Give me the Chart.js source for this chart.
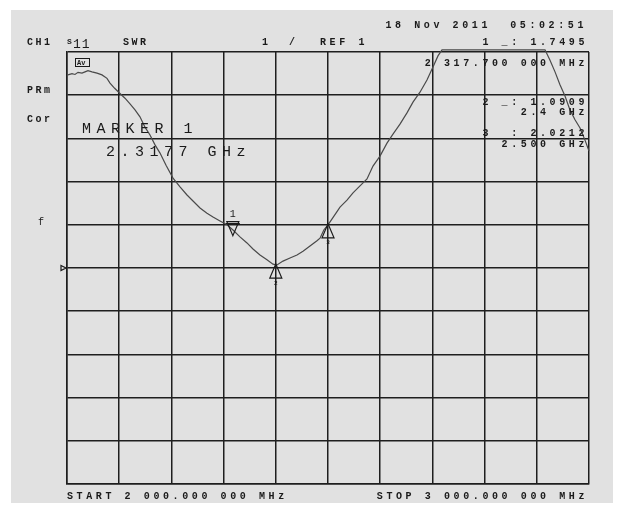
<!DOCTYPE html>
<html>
<head>
<meta charset="utf-8">
<script src="https://cdn.jsdelivr.net/npm/chart.js@4.4.0/dist/chart.umd.min.js"></script>
<style>
  html, body { margin: 0; padding: 0; background: #fff; }
  canvas { display: block; }
</style>
</head>
<body>
<canvas id="swrChart" width="624" height="506"></canvas>
<script>
// sweep 2000 - 3000 MHz, SWR trace (1 / div, ref 1)
const freqMHz = [2001.9, 2009.6, 2015.3, 2021.1, 2028.7, 2034.5, 2040.2, 2047.9, 2057.5, 2067.0,
    2076.6, 2082.4, 2091.3, 2101.5, 2111.1, 2120.7, 2130.3, 2139.8, 2149.4, 2159.0,
    2168.6, 2178.2, 2189.7, 2203.1, 2216.5, 2229.9, 2241.4, 2254.8, 2268.2, 2279.7,
    2293.1, 2306.5, 2318.0, 2331.4, 2344.8, 2356.3, 2369.7, 2383.1, 2394.6, 2402.3,
    2413.8, 2427.2, 2440.6, 2452.1, 2465.5, 2478.9, 2484.7, 2492.0, 2500.0, 2515.3,
    2523.0, 2536.4, 2547.9, 2561.3, 2574.7, 2586.2, 2599.6, 2613.0, 2624.5, 2637.9,
    2651.3, 2662.8, 2676.2, 2689.6, 2701.1, 2710.7, 2718.4, 2915.7, 2925.3, 2934.9,
    2944.4, 2954.0, 2963.6, 2973.2, 2982.8, 2992.3, 3000.0];
const swr = [5.47, 5.50, 5.48, 5.53, 5.51, 5.54, 5.57, 5.54, 5.51, 5.47,
    5.39, 5.28, 5.16, 5.04, 4.93, 4.80, 4.66, 4.50, 4.26, 4.08,
    3.85, 3.66, 3.38, 3.08, 2.88, 2.69, 2.55, 2.39, 2.27, 2.18,
    2.09, 2.00, 1.88, 1.72, 1.58, 1.44, 1.30, 1.19, 1.09, 1.07,
    1.16, 1.23, 1.30, 1.39, 1.51, 1.63, 1.69, 1.88, 2.00, 2.27,
    2.41, 2.57, 2.74, 2.90, 3.06, 3.36, 3.59, 3.89, 4.10, 4.33,
    4.59, 4.84, 5.07, 5.35, 5.65, 5.91, 6.05, 6.05, 5.81, 5.54,
    5.24, 4.98, 4.66, 4.43, 4.24, 3.96, 3.71];

const markerNo = ['1', '2', '3'];
const markerFreq = [2317.7, 2400, 2500];
const markerSwr = [1.7495, 1.0909, 2.0212];
const markerUp = [false, true, true];

const startMHz = 2000;
const stopMHz = 3000;
const refLevel = 1;
const perDiv = 1;

const GRID = '#1e1e1e';
const INK = '#1a1a1a';
const SCREEN = '#e1e1e1';

function txt(ctx, s, x, y, font, spacing, align) {
    ctx.font = font;
    ctx.letterSpacing = spacing + 'px';
    ctx.textAlign = align || 'left';
    ctx.textBaseline = 'middle';
    ctx.fillText(s, x, y);
}

const screenPlugin = {
    id: 'screen',
    beforeDraw(chart) {
        const ctx = chart.ctx;
        ctx.save();
        ctx.fillStyle = '#fff';
        ctx.fillRect(0, 0, chart.width, chart.height);
        ctx.fillStyle = SCREEN;
        ctx.fillRect(11, 10, 602, 493);
        ctx.restore();
    },
    afterDatasetsDraw(chart) {
        const ctx = chart.ctx;
        const xs = chart.scales.x;
        const ys = chart.scales.y;
        ctx.save();
        ctx.strokeStyle = INK;
        ctx.fillStyle = INK;
        ctx.lineWidth = 1.2;

        // markers
        markerFreq.forEach((f, i) => {
            const px = xs.getPixelForValue(f);
            const py = ys.getPixelForValue(markerSwr[i]);
            const dir = markerUp[i] ? 1 : -1;
            ctx.beginPath();
            ctx.moveTo(px, py);
            ctx.lineTo(px - 6, py + dir * 14);
            ctx.lineTo(px + 6, py + dir * 14);
            ctx.closePath();
            ctx.stroke();
            if (!markerUp[i]) {
                // active marker gets a double top bar
                ctx.beginPath();
                ctx.moveTo(px - 7, py - 12);
                ctx.lineTo(px + 7, py - 12);
                ctx.stroke();
                txt(ctx, markerNo[i], px, py - 21, '10px "Liberation Mono"', 0, 'center');
            } else {
                txt(ctx, markerNo[i], px, py + 19, 'bold 6px "Liberation Mono"', 0, 'center');
            }
        });

        // reference position arrow
        const ry = ys.getPixelForValue(refLevel);
        ctx.beginPath();
        ctx.moveTo(61, ry - 2.5);
        ctx.lineTo(66, ry);
        ctx.lineTo(61, ry + 2.5);
        ctx.closePath();
        ctx.stroke();
        ctx.restore();
    },
    afterDraw(chart) {
        const ctx = chart.ctx;
        const small = 'bold 10px "Liberation Mono"';
        const sp = 3.6;
        ctx.save();
        ctx.fillStyle = INK;

        txt(ctx, '18 Nov 2011  05:02:51', 587, 25, small, sp, 'right');

        txt(ctx, 'CH1', 27, 42, small, 2.5, 'left');
        txt(ctx, 'S', 67, 42, 'bold 8px "Liberation Mono"', 0, 'left');
        txt(ctx, '11', 73, 45, '13px "Liberation Mono"', 1, 'left');
        txt(ctx, 'SWR', 123, 42, small, 2.5, 'left');
        txt(ctx, '1', 262, 42, small, 0, 'left');
        txt(ctx, '/', 289, 42, small, 0, 'left');
        txt(ctx, 'REF 1', 320, 42, small, sp, 'left');
        txt(ctx, '1 _: 1.7495', 588, 42, small, sp, 'right');

        txt(ctx, 'PRm', 27, 90, small, 2.5, 'left');
        txt(ctx, 'Cor', 27, 119, small, 2.5, 'left');
        txt(ctx, 'f', 38, 222, '10px "Liberation Mono"', 0, 'left');

        // averaging badge
        ctx.strokeStyle = INK;
        ctx.lineWidth = 1;
        ctx.strokeRect(75.5, 58.5, 14, 8);
        txt(ctx, 'Av', 77, 63, 'bold 7px "Liberation Mono"', 0, 'left');

        txt(ctx, 'MARKER 1', 82, 129, '15px "Liberation Mono"', 5.5, 'left');
        txt(ctx, '2.3177 GHz', 106, 152, '15px "Liberation Mono"', 5.5, 'left');

        txt(ctx, '2 317.700 000 MHz', 588, 63, small, sp, 'right');
        txt(ctx, '2 _: 1.0909', 588, 102, small, sp, 'right');
        txt(ctx, '2.4 GHz', 588, 112, small, sp, 'right');
        txt(ctx, '3  : 2.0212', 588, 133, small, sp, 'right');
        txt(ctx, '2.500 GHz', 588, 144, small, sp, 'right');

        txt(ctx, 'START 2 000.000 000 MHz', 67, 496, small, sp, 'left');
        txt(ctx, 'STOP 3 000.000 000 MHz', 588, 496, small, sp, 'right');
        ctx.restore();
    }
};

const axisStyle = {
    ticks: { display: false },
    grid: { color: GRID, lineWidth: 1.5, drawTicks: false },
    border: { color: GRID, width: 1.5 }
};

new Chart(document.getElementById('swrChart').getContext('2d'), {
    type: 'line',
    data: {
        datasets: [{
            label: 'S11 SWR',
            data: freqMHz.map((f, i) => ({ x: f, y: swr[i] })),
            borderColor: '#4a4a4a',
            borderWidth: 1.2,
            pointRadius: 0,
            tension: 0,
            clip: false
        }]
    },
    options: {
        responsive: false,
        animation: false,
        layout: { padding: { left: 67, top: 52, right: 35, bottom: 22 } },
        plugins: {
            legend: { display: false },
            tooltip: { enabled: false }
        },
        scales: {
            x: Object.assign({
                type: 'linear',
                min: startMHz,
                max: stopMHz
            }, axisStyle, { ticks: { display: false, stepSize: 100 } }),
            y: Object.assign({
                min: refLevel - 5 * perDiv,
                max: refLevel + 5 * perDiv
            }, axisStyle, { ticks: { display: false, stepSize: perDiv } })
        }
    },
    plugins: [screenPlugin]
});
</script>
</body>
</html>
